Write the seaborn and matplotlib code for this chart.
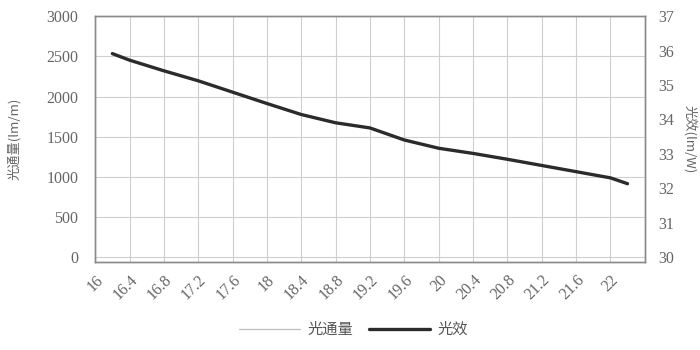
import matplotlib
matplotlib.use("Agg")
import matplotlib.pyplot as plt
from matplotlib.lines import Line2D
import seaborn as sns
import pandas as pd

# 电压 (V) 与 光效 (lm/W)
voltage = [16.2, 16.4, 16.8, 17.2, 17.6, 18.0, 18.4, 18.8, 19.2, 19.6,
           20.0, 20.4, 20.8, 21.2, 21.6, 22.0, 22.2]
efficacy = [35.91, 35.72, 35.41, 35.12, 34.79, 34.46, 34.14, 33.90, 33.75, 33.40,
            33.16, 33.01, 32.84, 32.66, 32.48, 32.30, 32.13]

x_ticks = [16, 16.4, 16.8, 17.2, 17.6, 18, 18.4, 18.8, 19.2, 19.6,
           20, 20.4, 20.8, 21.2, 21.6, 22]
x_tick_labels = ["16", "16.4", "16.8", "17.2", "17.6", "18", "18.4", "18.8", "19.2",
                 "19.6", "20", "20.4", "20.8", "21.2", "21.6", "22"]
flux_ticks = [0, 500, 1000, 1500, 2000, 2500, 3000]
eff_ticks = [30, 31, 32, 33, 34, 35, 36, 37]

sns.set_theme(style="white")
plt.rcParams["font.family"] = ["Liberation Serif", "Noto Sans CJK SC", "DejaVu Sans"]

df = pd.DataFrame({"voltage": voltage, "efficacy": efficacy})

fig = plt.figure(figsize=(7, 3.5), dpi=100)
ax = fig.add_axes([0.136, 0.251, 0.785, 0.703])
ax2 = ax.twinx()

txt_color = "#666666"
grid_color = "#cfcfcf"
spine_color = "#8a8a8a"

ax.set_xlim(16, 22.4)
ax.set_ylim(-60, 3000)
ax2.set_ylim(29.85, 37)

ax.set_xticks(x_ticks)
ax.set_xticklabels(x_tick_labels, rotation=45, ha="right", rotation_mode="anchor")
ax.set_yticks(flux_ticks)
ax2.set_yticks(eff_ticks)

ax.grid(True, color=grid_color, linewidth=0.8)
ax2.grid(False)

sns.lineplot(data=df, x="voltage", y="efficacy", ax=ax2, color="#2b2b2b",
             linewidth=2.4, legend=False)

for a in (ax, ax2):
    for s in a.spines.values():
        s.set_color(spine_color)
        s.set_linewidth(1.0)
    a.tick_params(colors=txt_color, labelsize=11.5, length=0)
ax.tick_params(axis="y", pad=12)
ax2.tick_params(axis="y", pad=10)
ax.tick_params(axis="x", pad=7)

ax.set_xlabel("")
ax2.set_xlabel("")
ax.set_ylabel("光通量(lm/m)", color=txt_color, fontsize=9.5, labelpad=18,
              family=["Noto Sans CJK SC", "DejaVu Sans"])
ax2.set_ylabel("光效(lm/W)", color=txt_color, fontsize=9.5, rotation=270, labelpad=16,
               family=["Noto Sans CJK SC", "DejaVu Sans"])

handles = [Line2D([0], [0], color="#bdbdbd", linewidth=0.9),
           Line2D([0], [0], color="#2b2b2b", linewidth=2.4)]
leg = fig.legend(handles, ["光通量", "光效"], loc="lower center", ncol=2,
                 bbox_to_anchor=(0.505, -0.005), frameon=False, handlelength=4.0,
                 columnspacing=1.0, handletextpad=0.5,
                 prop={"family": ["Noto Sans CJK SC", "DejaVu Sans"], "size": 11})
for t in leg.get_texts():
    t.set_color("#555555")

fig.savefig("out.png", dpi=100)
